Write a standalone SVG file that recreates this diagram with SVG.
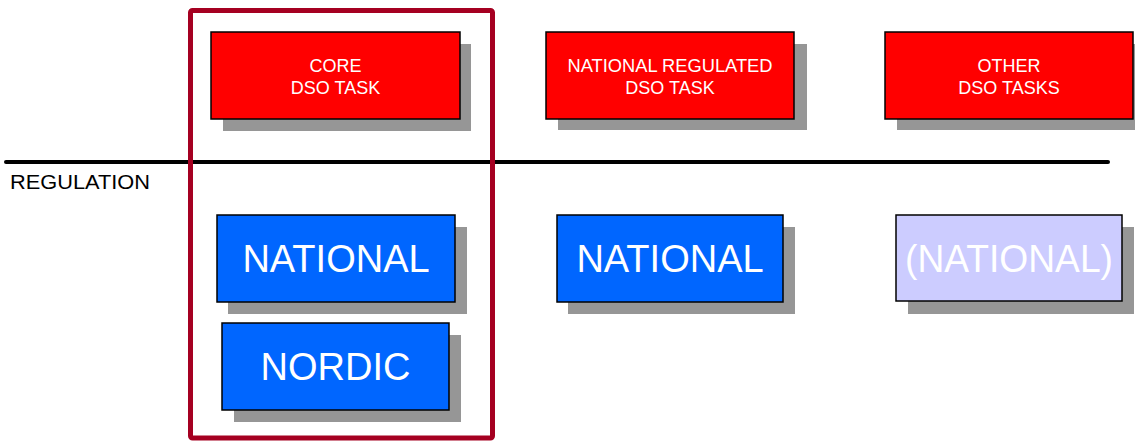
<svg xmlns="http://www.w3.org/2000/svg" width="1135" height="441" viewBox="0 0 1135 441">
  <style>
    .shadow { fill: #969696; }
    .box { stroke: #000; stroke-width: 1.5; }
    .task { fill: #FF0000; }
    .reg { fill: #0066FF; }
    .opt { fill: #CCCCFF; }
    text { font-family: "Liberation Sans", Arial, sans-serif; fill: #fff; text-anchor: middle; }
    .small { font-size: 18px; }
    .big { font-size: 38px; }
  </style>
  <rect width="1135" height="441" fill="#fff"/>

  <!-- regulation divider -->
  <g id="regulation">
    <line x1="6" y1="162" x2="1108" y2="162" stroke="#000" stroke-width="4" stroke-linecap="round"/>
    <text x="10" y="189" textLength="140" lengthAdjust="spacingAndGlyphs" style="font-size:21px;fill:#000;text-anchor:start">REGULATION</text>
  </g>

  <!-- task boxes -->
  <g id="core-task">
    <rect class="shadow" x="223" y="44" width="248" height="87"/>
    <rect class="box task" x="211" y="32" width="249" height="87"/>
    <text class="small" x="335.5" y="72">CORE</text>
    <text class="small" x="335.5" y="94">DSO TASK</text>
  </g>
  <g id="national-regulated-task">
    <rect class="shadow" x="558" y="44" width="249" height="86"/>
    <rect class="box task" x="546" y="32" width="248" height="87"/>
    <text class="small" x="670" y="72" textLength="205" lengthAdjust="spacingAndGlyphs">NATIONAL REGULATED</text>
    <text class="small" x="670" y="94">DSO TASK</text>
  </g>
  <g id="other-tasks">
    <rect class="shadow" x="897" y="44" width="248" height="86"/>
    <rect class="box task" x="885" y="32" width="248" height="87"/>
    <text class="small" x="1009" y="72">OTHER</text>
    <text class="small" x="1009" y="94">DSO TASKS</text>
  </g>

  <!-- regulation level boxes -->
  <g id="core-national">
    <rect class="shadow" x="228" y="227" width="239" height="87"/>
    <rect class="box reg" x="217" y="215" width="238" height="87"/>
    <text class="big" x="336" y="272">NATIONAL</text>
  </g>
  <g id="core-nordic">
    <rect class="shadow" x="234" y="335" width="227" height="87"/>
    <rect class="box reg" x="222" y="323" width="227" height="87"/>
    <text class="big" x="335.5" y="380">NORDIC</text>
  </g>
  <g id="regulated-national">
    <rect class="shadow" x="568" y="227" width="227" height="87"/>
    <rect class="box reg" x="557" y="215" width="226" height="87"/>
    <text class="big" x="670" y="272">NATIONAL</text>
  </g>
  <g id="other-national">
    <rect class="shadow" x="908" y="227" width="226" height="87"/>
    <rect class="box opt" x="896" y="215" width="226" height="86"/>
    <text class="big" x="1009" y="272" textLength="208" lengthAdjust="spacingAndGlyphs">(NATIONAL)</text>
  </g>

  <!-- highlight frame around the core column -->
  <g id="core-frame">
    <rect x="190.5" y="10.5" width="302" height="427.5" rx="2" fill="none" stroke="#A50021" stroke-width="5"/>
  </g>
</svg>
